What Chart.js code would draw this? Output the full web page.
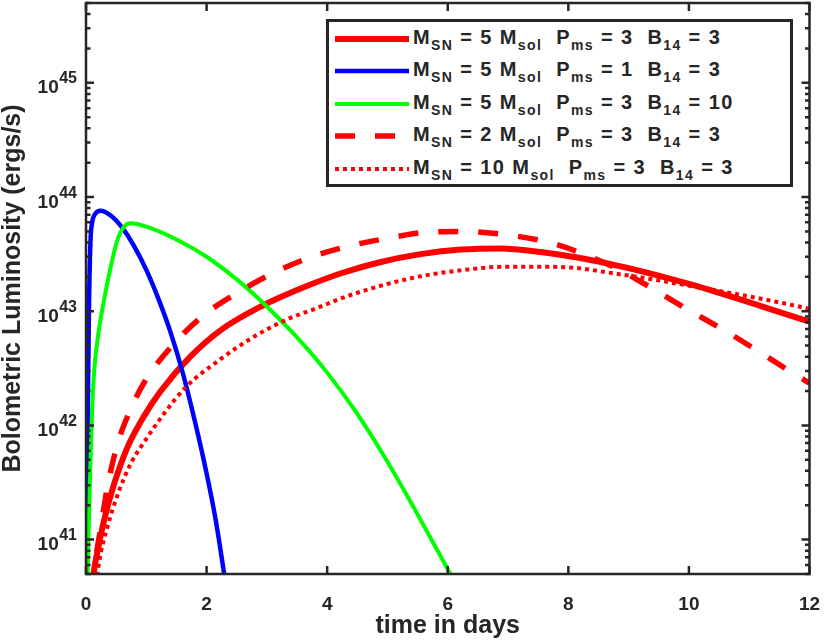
<!DOCTYPE html>
<html lang="en">
<head>
<meta charset="utf-8">
<title>Bolometric luminosity</title>
<script src="https://cdn.jsdelivr.net/npm/chart.js@4.4.1/dist/chart.umd.min.js"></script>
<style>
  html, body { margin: 0; padding: 0; background: #ffffff; }
  #wrap { position: relative; width: 824px; height: 641px; }
  #legend {
    position: absolute; left: 326px; top: 19px; width: 467px; height: 168px;
    box-sizing: border-box; border: 3px solid #262626; background: #ffffff;
    font-family: "Liberation Sans", Arial, sans-serif; font-weight: bold; font-size: 20px;
    color: #262626;
  }
  #legend .row { position: absolute; left: 0; width: 100%; height: 32px; }
  #legend svg { position: absolute; left: 6px; top: 0; }
  #legend .txt { position: absolute; left: 84px; top: -2px; line-height: 32px; white-space: pre; letter-spacing: 1.4px; }
  #legend sub { font-size: 14px; vertical-align: -5.5px; line-height: 0; }
</style>
</head>
<body>
<div id="wrap">
  <canvas id="lumChart" width="824" height="641"></canvas>
  <div id="legend"></div>
</div>
<script>
// model parameters of each curve (legend)
const massSN = [5, 5, 5, 2, 10];
const periodMs = [3, 1, 3, 3, 3];
const fieldB14 = [3, 3, 10, 3, 3];

// M_SN = 5, P_ms = 3, B_14 = 3
const tBase = [0.10, 0.13, 0.20, 0.30, 0.46, 0.68, 0.96, 1.24, 1.73, 2.23, 2.90, 3.56, 4.22, 4.89, 5.55, 6.22, 6.88, 7.54, 8.15, 8.98, 10.06, 11.17, 12.0];
const lumBase = [3.5e40, 5.2e40, 8.3e40, 1.48e41, 3.0e41, 6.3e41, 1.2e42, 2.0e42, 4.0e42, 6.8e42, 1.1e43, 1.58e43, 2.14e43, 2.7e43, 3.16e43, 3.47e43, 3.55e43, 3.3e43, 2.95e43, 2.4e43, 1.7e43, 1.12e43, 8.1e42];

// M_SN = 5, P_ms = 1, B_14 = 3
const tFastSpin = [0.00, 0.02, 0.035, 0.05, 0.075, 0.10, 0.16, 0.24, 0.41, 0.60, 0.80, 1.00, 1.20, 1.40, 1.60, 1.80, 2.00, 2.15, 2.28, 2.36];
const lumFastSpin = [3e40, 4e41, 2.2e42, 1.1e43, 4.2e43, 5.9e43, 7.2e43, 7.6e43, 6.9e43, 5.4e43, 3.7e43, 2.3e43, 1.29e43, 6.6e42, 2.95e42, 1.12e42, 3.8e41, 1.5e41, 5.5e40, 2.8e40];

// M_SN = 5, P_ms = 3, B_14 = 10
const tStrongB = [0.02, 0.04, 0.07, 0.10, 0.14, 0.19, 0.30, 0.41, 0.52, 0.63, 0.74, 1.00, 1.50, 2.00, 2.50, 3.00, 3.50, 4.00, 4.50, 5.00, 5.50, 6.00, 6.10];
const lumStrongB = [3e40, 1.0e41, 4.0e41, 1.3e42, 3.2e42, 5.6e42, 1.26e43, 2.45e43, 4.2e43, 5.5e43, 5.9e43, 5.5e43, 4.25e43, 3.0e43, 1.9e43, 1.1e43, 5.9e42, 2.9e42, 1.26e42, 4.8e41, 1.66e41, 5.5e40, 4.4e40];

// M_SN = 2, P_ms = 3, B_14 = 3
const tLowMass = [0.10, 0.13, 0.25, 0.35, 0.52, 0.73, 0.98, 1.46, 1.96, 2.51, 3.06, 3.67, 4.34, 5.00, 5.61, 6.27, 6.93, 7.60, 8.10, 8.85, 9.42, 10.00, 10.59, 11.14, 11.69, 12.0];
const lumLowMass = [3.5e40, 5.2e40, 1.32e41, 2.8e41, 6.8e41, 1.35e42, 2.45e42, 5.2e42, 9.3e42, 1.45e43, 2.1e43, 2.9e43, 3.7e43, 4.35e43, 4.9e43, 5.0e43, 4.7e43, 4.1e43, 3.4e43, 2.3e43, 1.55e43, 1.02e43, 6.8e42, 4.5e42, 2.95e42, 2.35e42];

// M_SN = 10, P_ms = 3, B_14 = 3
const tHighMass = [0.16, 0.21, 0.35, 0.54, 0.74, 1.02, 1.29, 1.65, 2.23, 2.79, 3.34, 3.84, 4.22, 4.94, 5.61, 6.27, 6.93, 7.60, 8.10, 8.74, 9.40, 10.06, 10.83, 11.48, 12.0];
const lumHighMass = [3.5e40, 6e40, 1.26e41, 2.6e41, 4.6e41, 7.9e41, 1.26e42, 2.15e42, 3.8e42, 6.0e42, 8.5e42, 1.07e43, 1.29e43, 1.7e43, 2.05e43, 2.3e43, 2.45e43, 2.45e43, 2.4e43, 2.15e43, 1.9e43, 1.65e43, 1.4e43, 1.2e43, 1.05e43];

// axis ticks
const xTicks = [0, 2, 4, 6, 8, 10, 12];
const yDecades = [41, 42, 43, 44, 45];

document.addEventListener('DOMContentLoaded', () => {
    const axisColor = '#262626';
    const fontFamily = '"Liberation Sans", Arial, Helvetica, sans-serif';
    const tickMajor = 8;
    const tickMinor = 4.5;

    const toPoints = (ts, ls) => ts.map((t, i) => ({ x: t, y: ls[i] }));

    // y tick marks: decades plus 2..9 minors inside the range
    const yMin = 5e40, yMax = 5e45;
    const yTickMarks = [];
    for (let e = 40; e <= 45; e++) {
        for (let m = 1; m <= 9; m++) {
            const v = m * Math.pow(10, e);
            if (v >= yMin && v <= yMax) {
                yTickMarks.push({ value: v, decade: m === 1 && yDecades.includes(e) ? e : undefined });
            }
        }
    }

    // MATLAB-like box with inward ticks and 10^n labels
    const matlabBox = {
        id: 'matlabBox',
        afterDatasetsDraw(chart) {
            const { ctx, chartArea: a, scales: { x, y } } = chart;
            ctx.save();
            ctx.strokeStyle = axisColor;
            ctx.lineWidth = 2.5;
            ctx.beginPath();
            x.ticks.forEach(t => {
                const px = x.getPixelForValue(t.value);
                ctx.moveTo(px, a.bottom); ctx.lineTo(px, a.bottom - tickMajor);
                ctx.moveTo(px, a.top); ctx.lineTo(px, a.top + tickMajor);
            });
            y.ticks.forEach(t => {
                const py = y.getPixelForValue(t.value);
                const len = t.decade !== undefined ? tickMajor : tickMinor;
                ctx.moveTo(a.left, py); ctx.lineTo(a.left + len, py);
                ctx.moveTo(a.right, py); ctx.lineTo(a.right - len, py);
            });
            ctx.stroke();
            ctx.strokeRect(a.left, a.top, a.right - a.left, a.bottom - a.top);

            ctx.fillStyle = axisColor;
            ctx.textAlign = 'right';
            ctx.textBaseline = 'alphabetic';
            y.ticks.filter(t => t.decade !== undefined).forEach(t => {
                const py = y.getPixelForValue(t.value);
                const right = a.left - 9;
                ctx.font = 'bold 16px ' + fontFamily;
                const exp = String(t.decade);
                const w = ctx.measureText(exp).width;
                ctx.fillText(exp, right, py + 0.5);
                ctx.font = 'bold 19px ' + fontFamily;
                ctx.fillText('10', right - w - 0.5, py + 10.5);
            });
            ctx.restore();
        }
    };

    const series = [
        { t: tBase, l: lumBase, color: '#ff0000', width: 6, dash: [] },
        { t: tFastSpin, l: lumFastSpin, color: '#0000ff', width: 4.5, dash: [] },
        { t: tStrongB, l: lumStrongB, color: '#00ff00', width: 4, dash: [] },
        { t: tLowMass, l: lumLowMass, color: '#ff0000', width: 5.5, dash: [20, 20] },
        { t: tHighMass, l: lumHighMass, color: '#ff0000', width: 4, dash: [4, 4] }
    ];

    const ctx = document.getElementById('lumChart');
    const chart = new Chart(ctx, {
        type: 'line',
        data: {
            datasets: series.map((s, i) => ({
                label: `M_SN = ${massSN[i]} M_sol  P_ms = ${periodMs[i]}  B_14 = ${fieldB14[i]}`,
                data: toPoints(s.t, s.l),
                borderColor: s.color,
                borderWidth: s.width,
                borderDash: s.dash,
                borderCapStyle: 'butt',
                pointRadius: 0,
                cubicInterpolationMode: 'monotone',
                order: series.length - i
            }))
        },
        options: {
            responsive: false,
            animation: false,
            layout: { padding: { top: 3, right: 14.5, left: 0, bottom: 0 } },
            plugins: {
                legend: { display: false },
                tooltip: { enabled: false }
            },
            scales: {
                x: {
                    type: 'linear',
                    min: 0,
                    max: 12,
                    afterBuildTicks: scale => { scale.ticks = xTicks.map(v => ({ value: v })); },
                    afterFit: scale => {
                        scale.height = 67;
                        scale.paddingLeft = 0;
                        scale.paddingRight = 0;
                    },
                    grid: { display: false },
                    border: { display: false },
                    ticks: {
                        color: axisColor,
                        padding: 11,
                        maxRotation: 0,
                        font: { family: fontFamily, size: 19, weight: 'bold' }
                    },
                    title: {
                        display: true,
                        text: 'time in days',
                        color: axisColor,
                        padding: { top: 0, bottom: 0 },
                        font: { family: fontFamily, size: 25, weight: 'bold' }
                    }
                },
                y: {
                    type: 'logarithmic',
                    min: yMin,
                    max: yMax,
                    afterBuildTicks: scale => { scale.ticks = yTickMarks.map(t => ({ ...t })); },
                    afterFit: scale => { scale.width = 86; },
                    grid: { display: false },
                    border: { display: false },
                    ticks: { display: false },
                    title: {
                        display: true,
                        text: 'Bolometric Luminosity (ergs/s)',
                        color: axisColor,
                        padding: { top: -1.5, bottom: 0 },
                        font: { family: fontFamily, size: 25, weight: 'bold' }
                    }
                }
            }
        },
        plugins: [matlabBox]
    });

    // legend with subscripts, built from the datasets
    const legendEl = document.getElementById('legend');
    chart.data.datasets.forEach((ds, i) => {
        const row = document.createElement('div');
        row.className = 'row';
        row.style.top = (0.5 + i * 32.6) + 'px';
        row.innerHTML =
            `<svg width="74" height="32"><line x1="0" y1="16" x2="74" y2="16" stroke="${ds.borderColor}" ` +
            `stroke-width="${ds.borderWidth}" stroke-dasharray="${ds.borderDash.join(' ')}"/></svg>` +
            `<span class="txt">M<sub>SN</sub> = ${massSN[i]} M<sub>sol</sub>  P<sub>ms</sub> = ${periodMs[i]}  B<sub>14</sub> = ${fieldB14[i]}</span>`;
        legendEl.appendChild(row);
    });
});
</script>
</body>
</html>
